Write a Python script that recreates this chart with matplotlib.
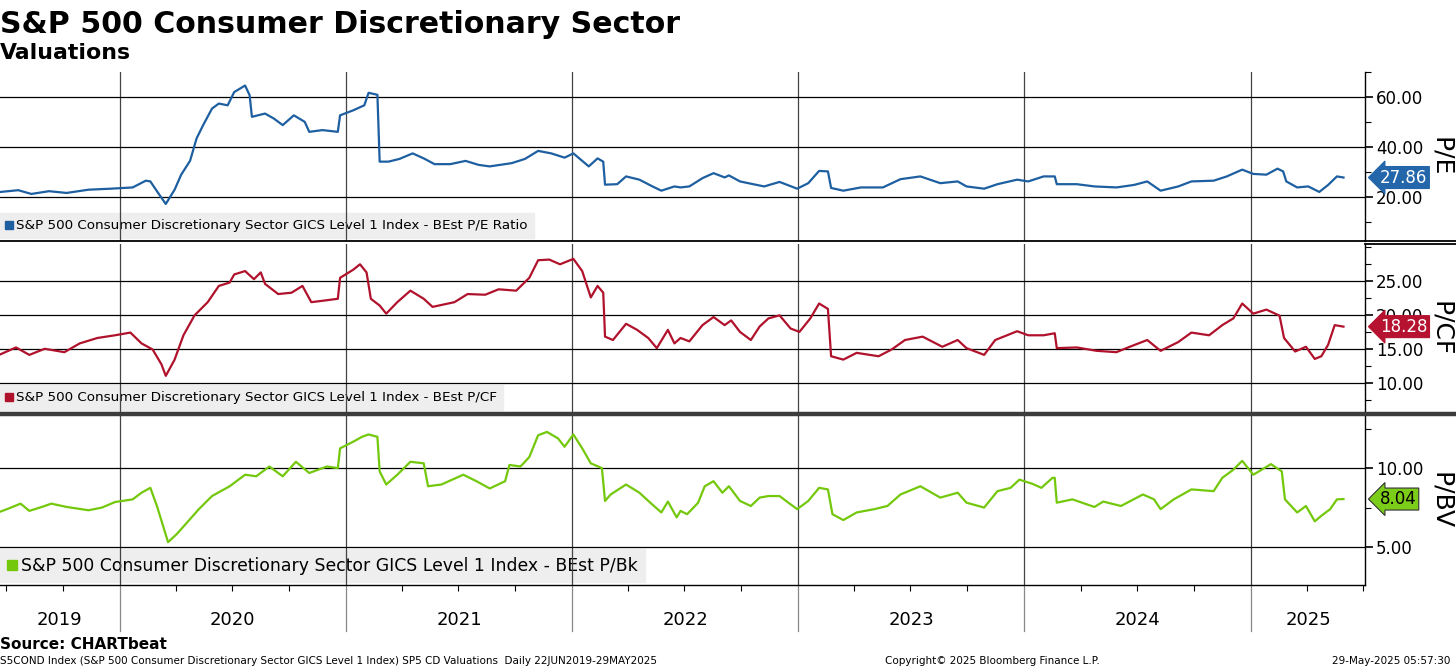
import datetime as dt
import matplotlib.pyplot as plt
import matplotlib.dates as mdates
import matplotlib.transforms as mtransforms
from matplotlib.ticker import MultipleLocator, FixedLocator, FormatStrFormatter
from matplotlib.lines import Line2D

# time stamps in decimal years
pe_t = [2019.474, 2019.552, 2019.610, 2019.688, 2019.766, 2019.863, 2019.961, 2020.058, 2020.116, 2020.136,
        2020.165, 2020.204, 2020.243, 2020.272, 2020.311, 2020.340, 2020.369, 2020.408, 2020.438, 2020.477,
        2020.506, 2020.554, 2020.574, 2020.584, 2020.642, 2020.681, 2020.720, 2020.769, 2020.817, 2020.837,
        2020.895, 2020.963, 2020.973, 2021.031, 2021.080, 2021.099, 2021.138, 2021.148, 2021.187, 2021.236,
        2021.294, 2021.343, 2021.391, 2021.460, 2021.528, 2021.586, 2021.635, 2021.732, 2021.791, 2021.849,
        2021.907, 2021.966, 2022.005, 2022.073, 2022.112, 2022.137, 2022.145, 2022.199, 2022.238, 2022.297,
        2022.355, 2022.394, 2022.452, 2022.479, 2022.518, 2022.576, 2022.625, 2022.674, 2022.693, 2022.742,
        2022.800, 2022.849, 2022.917, 2022.995, 2023.044, 2023.092, 2023.131, 2023.145, 2023.199, 2023.277,
        2023.374, 2023.452, 2023.540, 2023.628, 2023.705, 2023.744, 2023.822, 2023.881, 2023.968, 2024.017,
        2024.085, 2024.134, 2024.143, 2024.231, 2024.309, 2024.406, 2024.484, 2024.542, 2024.601, 2024.679,
        2024.737, 2024.835, 2024.893, 2024.961, 2025.010, 2025.068, 2025.117, 2025.142, 2025.156, 2025.204,
        2025.253, 2025.302, 2025.341, 2025.380, 2025.409]
pe_v = [22.1, 22.8, 21.3, 22.4, 21.7, 23.0, 23.4, 23.9, 26.6, 26.3,
        22.4, 17.3, 23.0, 29.0, 34.5, 43.5, 48.8, 55.4, 57.4, 56.7,
        62.0, 64.6, 60.7, 52.1, 53.4, 51.4, 48.8, 52.7, 50.1, 46.1,
        46.8, 46.1, 52.7, 54.7, 56.7, 61.7, 60.9, 34.2, 34.2, 35.3,
        37.5, 35.5, 33.2, 33.2, 34.5, 32.9, 32.3, 33.6, 35.3, 38.5,
        37.5, 35.8, 37.5, 32.3, 35.5, 34.2, 25.0, 25.2, 28.3, 27.0,
        24.3, 22.6, 24.3, 23.9, 24.3, 27.6, 29.6, 27.9, 28.7, 26.3,
        25.2, 24.3, 26.1, 23.4, 25.6, 30.5, 30.3, 23.7, 22.6, 23.9,
        23.9, 27.2, 28.3, 25.6, 26.3, 24.3, 23.4, 25.2, 27.0, 26.3,
        28.3, 28.3, 25.2, 25.2, 24.3, 23.9, 24.9, 26.3, 22.6, 24.3,
        26.3, 26.6, 28.3, 31.0, 29.3, 29.0, 31.4, 30.3, 26.3, 23.9,
        24.3, 22.1, 24.9, 28.3, 27.86]

pcf_t = [2019.474, 2019.542, 2019.601, 2019.669, 2019.756, 2019.824, 2019.902, 2019.980, 2020.048, 2020.097,
         2020.146, 2020.185, 2020.204, 2020.243, 2020.282, 2020.331, 2020.389, 2020.438, 2020.486, 2020.506,
         2020.554, 2020.593, 2020.623, 2020.642, 2020.700, 2020.759, 2020.807, 2020.846, 2020.895, 2020.963,
         2020.973, 2021.031, 2021.061, 2021.090, 2021.109, 2021.148, 2021.177, 2021.226, 2021.284, 2021.343,
         2021.382, 2021.479, 2021.537, 2021.615, 2021.674, 2021.752, 2021.810, 2021.849, 2021.898, 2021.946,
         2022.005, 2022.044, 2022.082, 2022.112, 2022.137, 2022.145, 2022.180, 2022.238, 2022.287, 2022.336,
         2022.374, 2022.423, 2022.452, 2022.479, 2022.518, 2022.576, 2022.625, 2022.674, 2022.703, 2022.742,
         2022.790, 2022.829, 2022.868, 2022.917, 2022.966, 2023.005, 2023.053, 2023.092, 2023.131, 2023.145,
         2023.199, 2023.258, 2023.355, 2023.413, 2023.472, 2023.550, 2023.637, 2023.705, 2023.744, 2023.822,
         2023.871, 2023.968, 2024.017, 2024.085, 2024.134, 2024.143, 2024.231, 2024.319, 2024.406, 2024.465,
         2024.542, 2024.601, 2024.679, 2024.737, 2024.815, 2024.873, 2024.922, 2024.961, 2025.010, 2025.068,
         2025.126, 2025.146, 2025.195, 2025.243, 2025.282, 2025.311, 2025.341, 2025.370, 2025.409]
pcf_v = [14.2, 15.2, 14.1, 15.0, 14.5, 15.8, 16.6, 17.0, 17.4, 15.8,
         14.9, 12.7, 11.0, 13.4, 17.0, 19.95, 21.9, 24.3, 24.8, 26.0,
         26.5, 25.3, 26.3, 24.6, 23.1, 23.3, 24.3, 21.9, 22.1, 22.4,
         25.5, 26.7, 27.5, 26.3, 22.4, 21.4, 20.2, 21.9, 23.6, 22.4,
         21.2, 21.9, 23.1, 23.0, 23.8, 23.6, 25.5, 28.1, 28.2, 27.5,
         28.3, 26.5, 22.6, 24.3, 23.3, 16.8, 16.3, 18.7, 17.8, 16.6,
         15.1, 17.8, 15.8, 16.6, 16.1, 18.5, 19.7, 18.5, 19.2, 17.5,
         16.3, 18.3, 19.5, 19.95, 18.0, 17.5, 19.5, 21.7, 20.9, 13.9,
         13.4, 14.4, 13.9, 14.9, 16.3, 16.8, 15.3, 16.3, 15.1, 14.1,
         16.3, 17.6, 17.0, 17.0, 17.3, 15.1, 15.2, 14.7, 14.5, 15.3,
         16.3, 14.7, 16.0, 17.4, 17.0, 18.5, 19.5, 21.7, 20.2, 20.8,
         19.9, 16.6, 14.6, 15.3, 13.5, 13.9, 15.6, 18.5, 18.28]

pbv_t = [2019.474, 2019.513, 2019.562, 2019.601, 2019.669, 2019.698, 2019.766, 2019.863, 2019.922, 2019.980,
         2020.058, 2020.097, 2020.136, 2020.165, 2020.194, 2020.214, 2020.253, 2020.292, 2020.350, 2020.408,
         2020.486, 2020.554, 2020.603, 2020.661, 2020.720, 2020.778, 2020.837, 2020.915, 2020.963, 2020.973,
         2021.031, 2021.070, 2021.099, 2021.138, 2021.148, 2021.177, 2021.226, 2021.284, 2021.343, 2021.362,
         2021.421, 2021.518, 2021.576, 2021.635, 2021.703, 2021.722, 2021.771, 2021.810, 2021.849, 2021.888,
         2021.937, 2021.966, 2022.005, 2022.044, 2022.082, 2022.131, 2022.145, 2022.170, 2022.238, 2022.297,
         2022.345, 2022.394, 2022.423, 2022.462, 2022.479, 2022.508, 2022.557, 2022.586, 2022.625, 2022.664,
         2022.693, 2022.742, 2022.790, 2022.829, 2022.868, 2022.917, 2022.956, 2022.995, 2023.044, 2023.092,
         2023.131, 2023.151, 2023.199, 2023.258, 2023.336, 2023.394, 2023.452, 2023.540, 2023.628, 2023.705,
         2023.744, 2023.822, 2023.881, 2023.939, 2023.978, 2024.036, 2024.075, 2024.124, 2024.134, 2024.143,
         2024.212, 2024.309, 2024.348, 2024.426, 2024.523, 2024.572, 2024.601, 2024.659, 2024.737, 2024.835,
         2024.873, 2024.922, 2024.961, 2025.010, 2025.088, 2025.136, 2025.150, 2025.204, 2025.243, 2025.282,
         2025.311, 2025.350, 2025.380, 2025.409]
pbv_v = [7.25, 7.46, 7.75, 7.29, 7.6, 7.75, 7.54, 7.33, 7.5, 7.85,
         8.02, 8.44, 8.75, 7.6, 6.25, 5.31, 5.83, 6.46, 7.4, 8.23,
         8.85, 9.58, 9.48, 10.1, 9.48, 10.4, 9.69, 10.1, 10.0, 11.25,
         11.67, 11.98, 12.13, 11.98, 9.79, 8.96, 9.58, 10.4, 10.3, 8.85,
         8.96, 9.58, 9.17, 8.71, 9.17, 10.2, 10.1, 10.7, 12.08, 12.29,
         11.88, 11.35, 12.13, 11.25, 10.3, 10.0, 7.92, 8.33, 8.96, 8.44,
         7.81, 7.19, 7.88, 6.88, 7.29, 7.08, 7.81, 8.85, 9.17, 8.44,
         8.85, 7.92, 7.6, 8.13, 8.23, 8.23, 7.81, 7.4, 7.92, 8.75,
         8.65, 7.08, 6.71, 7.19, 7.4, 7.6, 8.33, 8.85, 8.13, 8.44,
         7.81, 7.5, 8.54, 8.75, 9.27, 9.0, 8.75, 9.38, 9.38, 7.81,
         8.02, 7.54, 7.88, 7.6, 8.33, 8.02, 7.4, 8.02, 8.65, 8.54,
         9.38, 9.9, 10.46, 9.58, 10.25, 9.79, 8.02, 7.19, 7.6, 6.63,
         6.98, 7.4, 8.02, 8.04]

years = [2019, 2020, 2021, 2022, 2023, 2024, 2025]
pe_ticks = [20, 40, 60]
pcf_ticks = [10, 15, 20, 25]
pbv_ticks = [5, 10]
legend_names = ['S&P 500 Consumer Discretionary Sector GICS Level 1 Index - BEst P/E Ratio',
                'S&P 500 Consumer Discretionary Sector GICS Level 1 Index - BEst P/CF',
                'S&P 500 Consumer Discretionary Sector GICS Level 1 Index - BEst P/Bk']
axis_names = ['P/E', 'P/CF', 'P/BV']


def to_date(y):
    yr = int(y)
    start = dt.datetime(yr, 1, 1)
    n = (dt.datetime(yr + 1, 1, 1) - start).days
    return start + dt.timedelta(days=(y - yr) * n)


plt.rcParams['font.family'] = ['DejaVu Sans']
fig = plt.figure(figsize=(14.56, 6.68), dpi=100)

x0 = dt.datetime(2019, 6, 22)
x1 = dt.datetime(2025, 7, 4)

panels = [
    # rect, data, ticks, line colour, tag colour, tag text colour, ylim, minor step, legend size
    ([0, 0.6392, 0.9375, 0.2530], pe_t, pe_v, pe_ticks, '#1d5fa0', '#2366aa', 'white', (2.5, 70), 10, 9.7),
    ([0, 0.3817, 0.9375, 0.2530], pcf_t, pcf_v, pcf_ticks, '#b0122c', '#b5132f', 'white', (5.5, 30.5), 2.5, 9.7),
    ([0, 0.1243, 0.9375, 0.2530], pbv_t, pbv_v, pbv_ticks, '#74c80c', '#7ccc1a', 'black', (2.6, 13.3), 2.5, 12.4),
]

axes = []
for i, (rect, t, v, ticks, lc, tc, ttc, ylim, minor, lsize) in enumerate(panels):
    ax = fig.add_axes(rect)
    axes.append(ax)
    dates = [to_date(d) for d in t]
    ax.plot(dates, v, color=lc, lw=1.6, zorder=3)
    ax.set_xlim(x0, x1)
    ax.set_ylim(*ylim)

    ax.yaxis.tick_right()
    ax.yaxis.set_major_locator(FixedLocator(ticks))
    ax.yaxis.set_minor_locator(MultipleLocator(minor))
    ax.yaxis.set_major_formatter(FormatStrFormatter('%.2f'))
    ax.tick_params(axis='y', which='major', direction='out', length=6, width=1.2,
                   labelsize=12, pad=2, right=True, left=False)
    ax.tick_params(axis='y', which='minor', direction='out', length=4, width=0.8, right=True, left=False)

    ax.set_xticks([dt.datetime(y, 1, 1) for y in years[1:]])
    ax.set_xticklabels([])
    ax.tick_params(axis='x', which='major', length=0)
    ax.grid(True, axis='y', color='black', lw=0.9)
    ax.grid(True, axis='x', color='#444444', lw=0.9)

    for s in ['left', 'top']:
        ax.spines[s].set_visible(False)
    ax.spines['right'].set_linewidth(1.0)
    ax.spines['bottom'].set_visible(False)

    # side label
    ax.text(1.0557, 0.5, axis_names[i], transform=ax.transAxes, rotation=270,
            ha='center', va='center', fontsize=18)

    # last value tag
    tr = mtransforms.blended_transform_factory(ax.transAxes, ax.transData)
    ax.text(1.011, v[-1], '%.2f' % v[-1], transform=tr, ha='left', va='center', fontsize=12,
            color=ttc, zorder=5, clip_on=False,
            bbox=dict(boxstyle='larrow,pad=0.12', fc=tc, ec='#333333' if ttc == 'black' else tc, lw=0.8))

    leg = ax.legend(handles=[Line2D([], [], marker='s', ls='', color=lc, markersize=lsize * 0.55)],
                    labels=[legend_names[i]], loc='lower left', bbox_to_anchor=(0, 0.015),
                    borderaxespad=0, frameon=True, fancybox=False, facecolor='#eeeeee',
                    edgecolor='#eeeeee', framealpha=1, handlelength=0.5, handletextpad=0.25,
                    borderpad=0.45, fontsize=lsize)
    leg.set_zorder(1)

ax1, ax2, ax3 = axes

# separators
ax1.spines['bottom'].set_visible(True)
ax1.spines['bottom'].set_linewidth(1.3)
ax2.spines['top'].set_linewidth(1.3)
fig.add_artist(Line2D([0.9375, 1], [0.6392, 0.6392], color='black', lw=1.3))
fig.add_artist(Line2D([0.9375, 1], [0.6347, 0.6347], color='black', lw=1.3))
ax3.spines['top'].set_visible(False)
fig.add_artist(Line2D([0, 1], [0.3795, 0.3795], color='#3c3c3c', lw=3.2))

# bottom axis of last panel
ax3.spines['bottom'].set_visible(True)
ax3.spines['bottom'].set_linewidth(1.0)
ax3.xaxis.set_minor_locator(mdates.MonthLocator(bymonth=[1, 4, 7, 10]))
ax3.tick_params(axis='x', which='minor', direction='out', length=4, width=0.8)

xtr = ax3.get_xaxis_transform()
lo, hi = mdates.date2num(x0), mdates.date2num(x1)
for y in years:
    a = max(mdates.date2num(dt.datetime(y, 1, 1)), lo)
    b = min(mdates.date2num(dt.datetime(y + 1, 1, 1)), hi)
    ax3.text((a + b) / 2, -0.21, str(y), transform=xtr, ha='center', va='center', fontsize=13)
    if y > years[0]:
        ax3.plot([a, a], [0, -0.27], transform=xtr, color='#888888', lw=0.9, clip_on=False)

# titles and footer
fig.text(0.0, 0.9506, 'S&P 500 Consumer Discretionary Sector', fontsize=21.6, fontweight='bold', va='baseline')
fig.text(0.0, 0.912, 'Valuations', fontsize=15.8, fontweight='bold', va='baseline')
fig.text(0.0, 0.028, 'Source: CHARTbeat', fontsize=11, fontweight='bold', va='baseline')
fig.text(0.0, 0.006, 'S5COND Index (S&P 500 Consumer Discretionary Sector GICS Level 1 Index) SP5 CD Valuations  '
         'Daily 22JUN2019-29MAY2025', fontsize=7.5, va='baseline')
fig.text(0.608, 0.006, 'Copyright\u00a9 2025 Bloomberg Finance L.P.', fontsize=7.5, va='baseline')
fig.text(0.996, 0.006, '29-May-2025 05:57:30', fontsize=7.5, va='baseline', ha='right')

fig.savefig('out.png', dpi=100, facecolor='white')
